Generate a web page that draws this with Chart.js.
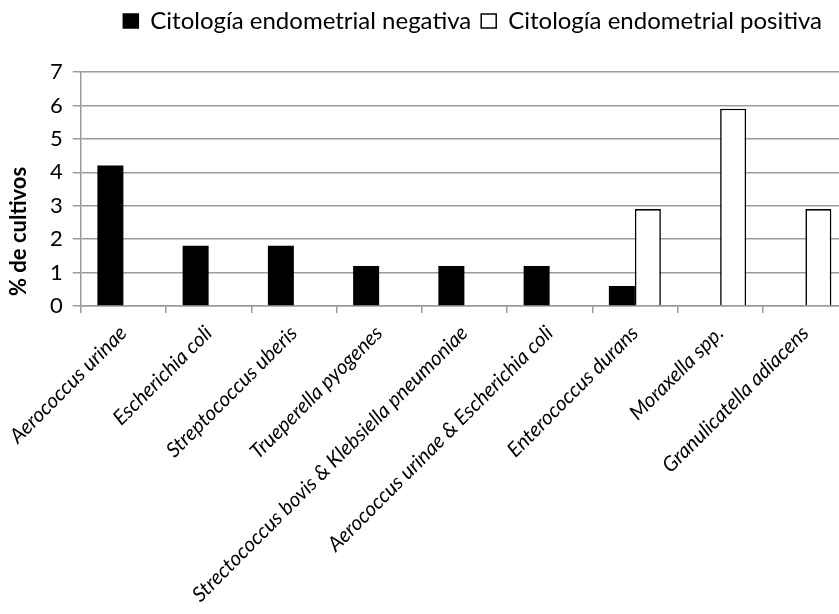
<!DOCTYPE html>
<html>
<head>
<meta charset="utf-8">
<script src="https://cdn.jsdelivr.net/npm/chart.js@4/dist/chart.umd.min.js"></script>
<style>
  html, body { margin: 0; padding: 0; background: #fff; overflow: hidden; }
  #wrap { width: 848px; height: 614px; position: relative; }
</style>
</head>
<body>
<div id="wrap"><canvas id="c"></canvas></div>
<script>
// Bacterial species isolated (x axis)
const categories = [
  'Aerococcus urinae',
  'Escherichia coli',
  'Streptococcus uberis',
  'Trueperella pyogenes',
  'Strectococcus bovis & Klebsiella pneumoniae',
  'Aerococcus urinae & Escherichia coli',
  'Enterococcus durans',
  'Moraxella spp.',
  'Granulicatella adiacens'
];
// % of cultures per cytology result
const negativa = [4.2, 1.8, 1.8, 1.2, 1.2, 1.2, 0.6, null, null];
const positiva = [null, null, null, null, null, null, 2.9, 5.9, 2.9];
const seriesNames = ['Citología endometrial negativa', 'Citología endometrial positiva'];
const yTicks = [0, 1, 2, 3, 4, 5, 6, 7];
const yTitle = '% de cultivos';

const FONT = 'Lato, "Open Sans", sans-serif';
const GRID = '#9b9b9b';

// Extra room between the legend and the plot area; legend pulled in from the right edge
const legendGap = {
  id: 'legendGap',
  beforeInit(chart) {
    const fit = chart.legend.fit;
    chart.legend.fit = function () {
      fit.bind(chart.legend)();
      this.height += 29;
      if (this.lineWidths) this.lineWidths = this.lineWidths.map(w => w + 16);
    };
  }
};

// Rotated y-axis title, placed toward the lower part of the axis
const yTitlePlugin = {
  id: 'yTitlePlugin',
  afterDraw(chart) {
    const ctx = chart.ctx;
    const area = chart.chartArea;
    ctx.save();
    ctx.font = 'bold 22px ' + FONT;
    ctx.fillStyle = '#000';
    ctx.textAlign = 'left';
    ctx.textBaseline = 'middle';
    ctx.translate(area.left - 62, area.bottom - 10);
    ctx.rotate(-Math.PI / 2);
    ctx.fillText(yTitle, 0, 0);
    ctx.restore();
  }
};

new Chart(document.getElementById('c'), {
  type: 'bar',
  data: {
    labels: categories,
    datasets: [
      {
        label: seriesNames[0],
        data: negativa,
        backgroundColor: '#000',
        borderColor: '#000',
        borderWidth: 0
      },
      {
        label: seriesNames[1],
        data: positiva,
        backgroundColor: '#fff',
        borderColor: '#000',
        borderWidth: 1.6
      }
    ]
  },
  options: {
    responsive: true,
    maintainAspectRatio: false,
    animation: false,
    devicePixelRatio: 1,
    layout: { padding: { left: 40, right: 0, top: -1, bottom: 1 } },
    datasets: {
      bar: { categoryPercentage: 0.61, barPercentage: 1.0 }
    },
    plugins: {
      legend: {
        position: 'top',
        align: 'end',
        labels: {
          font: { family: FONT, size: 24 },
          color: '#000',
          boxWidth: 15,
          boxHeight: 14,
          padding: 10,
          generateLabels(chart) {
            return chart.data.datasets.map((ds, i) => ({
              text: ds.label,
              fillStyle: ds.backgroundColor,
              strokeStyle: '#000',
              lineWidth: 1.5,
              fontColor: '#000',
              hidden: false,
              datasetIndex: i
            }));
          }
        }
      },
      tooltip: { enabled: false }
    },
    scales: {
      x: {
        grid: {
          offset: true,
          drawOnChartArea: false,
          drawTicks: true,
          tickLength: 7,
          color: GRID,
          lineWidth: 1.5
        },
        border: { color: GRID, width: 1.5 },
        ticks: {
          color: '#000',
          font: { family: FONT, size: 20.5, style: 'italic' },
          maxRotation: 45,
          minRotation: 45,
          autoSkip: false,
          padding: 8
        }
      },
      y: {
        min: 0,
        max: 7,
        afterBuildTicks(scale) {
          scale.ticks = yTicks.map(v => ({ value: v }));
        },
        grid: {
          color: GRID,
          lineWidth: 1.5,
          drawTicks: true,
          tickLength: 8
        },
        border: { color: GRID, width: 1.5 },
        ticks: {
          color: '#000',
          font: { family: FONT, size: 22 },
          padding: 10
        }
      }
    }
  },
  plugins: [legendGap, yTitlePlugin]
});
</script>
</body>
</html>
